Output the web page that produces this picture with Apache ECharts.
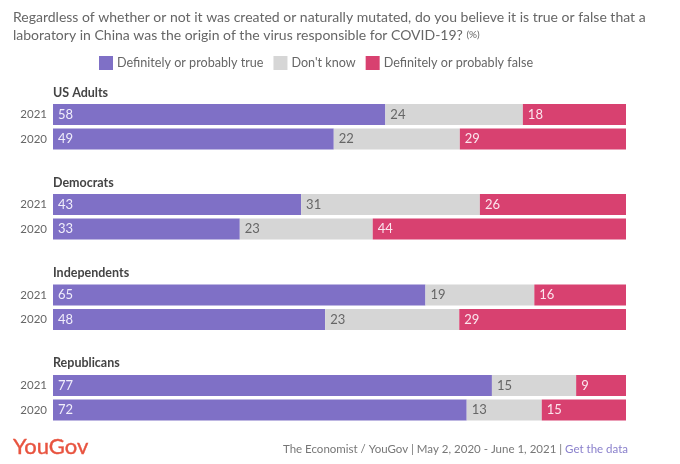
<!DOCTYPE html>
<html><head><meta charset="utf-8">
<style>html,body{margin:0;padding:0;background:#fff}#c{width:680px;height:464px}</style>
<script src="https://cdn.jsdelivr.net/npm/echarts@6/dist/echarts.min.js"></script>
</head><body><div id="c"></div>
<script>
const years = ['2021', '2020'];
const groups = ['US Adults', 'Democrats', 'Independents', 'Republicans'];
const seriesNames = ['Definitely or probably true', "Don't know", 'Definitely or probably false'];
const trueValues = [[58, 49], [43.3, 32.6], [65, 47.5], [76.6, 72.2]];
const dontKnowValues = [[24, 22], [31.2, 23.2], [19, 23.4], [14.7, 13.1]];
const falseValues = [[18, 29], [25.5, 44.2], [16, 29.1], [8.7, 14.7]];
const colors = ['#7f70c6', '#d6d6d6', '#d84170'];
const labelColors = ['#f1eefb', '#666666', '#fbe6ee'];
const gridTops = [102.25, 192.25, 282.75, 373.25];
const headTops = [86, 176, 266, 356];
const FONT = 'Lato';
const valueSets = [trueValues, dontKnowValues, falseValues];

const grids = [], xAxes = [], yAxes = [], series = [], titles = [];
titles.push({
  left: 13, top: 9, padding: 0,
  text: 'Regardless of whether or not it was created or naturally mutated, do you believe it is true or false that a\nlaboratory in China was the origin of the virus responsible for COVID-19? {s|(%)}',
  textStyle: { fontFamily: FONT, fontSize: 14, fontWeight: 'normal', color: '#666', lineHeight: 17.5,
    rich: { s: { fontFamily: FONT, fontSize: 10, color: '#666' } } }
});
groups.forEach((g, i) => {
  titles.push({ left: 53, top: headTops[i], padding: 0, text: g,
    textStyle: { fontFamily: FONT, fontSize: 12.5, fontWeight: 'bold', color: '#444' } });
  grids.push({ left: 53, width: 573, top: gridTops[i], height: 49 });
  xAxes.push({ gridIndex: i, type: 'value', min: 0, max: 100, show: false });
  yAxes.push({ gridIndex: i, type: 'category', inverse: true, data: years,
    axisLine: { show: false }, axisTick: { show: false }, splitLine: { show: false },
    axisLabel: { fontFamily: FONT, fontSize: 11.5, color: '#666', margin: 6 } });
  seriesNames.forEach((name, s) => {
    series.push({
      name, type: 'bar', xAxisIndex: i, yAxisIndex: i, stack: 'g' + i,
      barWidth: 21, data: valueSets[s][i],
      itemStyle: { color: colors[s] },
      label: { show: true, position: 'insideLeft', distance: 5,
        fontFamily: FONT, fontSize: 13, color: labelColors[s],
        formatter: p => String(Math.round(p.value)) }
    });
  });
});
titles.push({ left: 13, top: 436, padding: 0, text: 'YouGov',
  textStyle: { fontFamily: FONT, fontSize: 22, fontWeight: 'normal', color: '#e8533f', textBorderColor: '#e8533f', textBorderWidth: 0.4 } });
titles.push({ right: 52, top: 443, padding: 0,
  text: 'The Economist / YouGov | May 2, 2020 - June 1, 2021 | {l|Get the data}',
  textStyle: { fontFamily: FONT, fontSize: 11.5, fontWeight: 'normal', color: '#777',
    rich: { l: { fontFamily: FONT, fontSize: 11.5, color: '#8a80cc' } } } });

const chart = echarts.init(document.getElementById('c'), null, { renderer: 'canvas' });
chart.setOption({
  animation: false, backgroundColor: '#fff',
  title: titles,
  legend: { left: 94, top: 51, itemWidth: 14, itemHeight: 14, itemGap: 10,
    icon: 'rect', data: seriesNames,
    textStyle: { fontFamily: FONT, fontSize: 12.6, color: '#666', padding: [0, 0, 0, -1] } },
  grid: grids, xAxis: xAxes, yAxis: yAxes, series
});
</script></body></html>
